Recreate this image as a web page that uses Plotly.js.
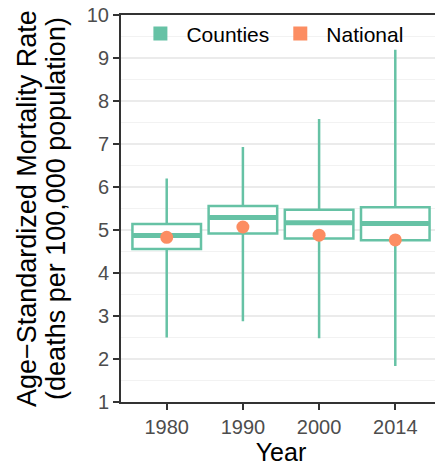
<!DOCTYPE html>
<html>
<head>
<meta charset="utf-8">
<script src="https://cdn.plot.ly/plotly-3.0.1.min.js"></script>
<style>
html, body { margin: 0; padding: 0; overflow: hidden; background: #fff; }
#chart { width: 441px; height: 466px; }
</style>
</head>
<body>
<div id="chart"></div>
<script>
// Data
var years = ['1980', '1990', '2000', '2014'];
var countyMin = [2.50, 2.88, 2.48, 1.84];
var countyQ1 = [4.56, 4.92, 4.80, 4.76];
var countyMedian = [4.87, 5.29, 5.17, 5.15];
var countyQ3 = [5.14, 5.56, 5.47, 5.53];
var countyMax = [6.20, 6.93, 7.58, 9.19];
var nationalRate = [4.83, 5.07, 4.88, 4.77];
var yTicks = [1, 2, 3, 4, 5, 6, 7, 8, 9, 10];

var green = '#66C2A5';
var orange = '#FC8D62';
var FONT = 'Liberation Sans, Arial, Helvetica, sans-serif';

var traces = [
  {
    type: 'box',
    x: years,
    q1: countyQ1,
    median: countyMedian,
    q3: countyQ3,
    lowerfence: countyMin,
    upperfence: countyMax,
    boxpoints: false,
    width: 0.9,
    whiskerwidth: 0,
    fillcolor: '#ffffff',
    line: { color: green, width: 2.5 },
    showlegend: false,
    hoverinfo: 'skip'
  },
  {
    type: 'scatter',
    mode: 'markers',
    x: years,
    y: countyMedian,
    marker: { symbol: 'line-ew', size: 48, color: green, line: { color: green, width: 5 } },
    showlegend: false,
    hoverinfo: 'skip'
  },
  {
    type: 'scatter',
    mode: 'markers',
    x: years,
    y: nationalRate,
    marker: { symbol: 'circle', size: 13, color: orange },
    showlegend: false,
    hoverinfo: 'skip'
  },
  {
    type: 'scatter', mode: 'markers', name: 'Counties',
    x: [null], y: [null],
    marker: { symbol: 'square', size: 14, color: green }
  },
  {
    type: 'scatter', mode: 'markers', name: 'National',
    x: [null], y: [null],
    marker: { symbol: 'square', size: 14, color: orange }
  }
];

var layout = {
  width: 441,
  height: 466,
  margin: { l: 121, r: 0, t: 15, b: 64 },
  paper_bgcolor: '#ffffff',
  plot_bgcolor: '#ffffff',
  font: { family: FONT, color: '#000000' },
  showlegend: true,
  legend: {
    orientation: 'h',
    x: 0.47, xanchor: 'center',
    y: 1.004, yanchor: 'top',
    bgcolor: 'rgba(0,0,0,0)',
    font: { family: FONT, size: 21, color: '#000000' },
    itemwidth: 42
  },
  xaxis: {
    type: 'category',
    categoryorder: 'array',
    categoryarray: years,
    range: [-0.6, 3.6],
    showgrid: false,
    zeroline: false,
    showline: true,
    mirror: true,
    linecolor: '#333333',
    linewidth: 2,
    ticks: 'outside',
    ticklen: 6,
    tickwidth: 2,
    tickcolor: '#333333',
    tickfont: { family: FONT, size: 20, color: '#4D4D4D' },
    title: { text: 'Year', font: { family: FONT, size: 25, color: '#000000' }, standoff: 6 },
    fixedrange: true
  },
  yaxis: {
    range: [1, 10],
    tickvals: yTicks,
    ticktext: yTicks.map(String),
    showgrid: true,
    gridcolor: '#EBEBEB',
    gridwidth: 1.6,
    minor: { dtick: 0.5, tick0: 0.5, showgrid: true, gridcolor: '#F2F2F2', gridwidth: 1 },
    zeroline: false,
    showline: true,
    linecolor: '#333333',
    linewidth: 2,
    ticks: 'outside',
    ticklen: 6,
    tickwidth: 2,
    tickcolor: '#333333',
    tickfont: { family: FONT, size: 20, color: '#4D4D4D' },
    fixedrange: true
  },
  annotations: [
    {
      text: 'Age\u2212Standardized Mortality Rate',
      xref: 'paper', yref: 'paper',
      x: -0.295, y: 0.5, xanchor: 'center', yanchor: 'middle',
      textangle: -90, showarrow: false,
      font: { family: FONT, size: 27, color: '#000000' }
    },
    {
      text: '(deaths per 100,000 population)',
      xref: 'paper', yref: 'paper',
      x: -0.205, y: 0.5, xanchor: 'center', yanchor: 'middle',
      textangle: -90, showarrow: false,
      font: { family: FONT, size: 27, color: '#000000' }
    }
  ]
};

Plotly.newPlot('chart', traces, layout, { staticPlot: true, displayModeBar: false });
</script>
</body>
</html>
